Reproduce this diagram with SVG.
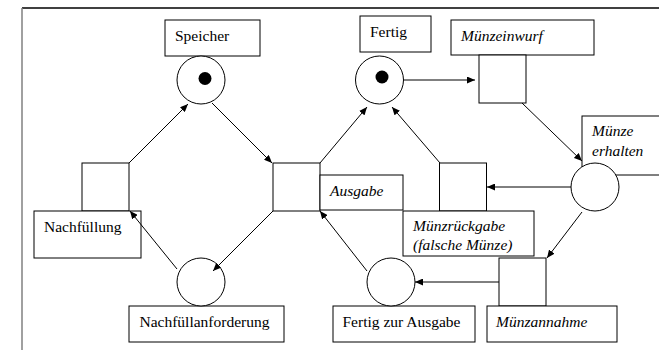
<svg xmlns="http://www.w3.org/2000/svg" width="659" height="350" viewBox="0 0 659 350">
  <style>
    .box { fill: #fff; stroke: #000; stroke-width: 1; }
    .trans { fill: #fff; stroke: #000; stroke-width: 1; }
    .place { fill: #fff; stroke: #000; stroke-width: 1; }
    .token { fill: #000; }
    .lbl { font-family: "Liberation Serif", "Times New Roman", serif; font-size: 15.5px; fill: #000; }
    .it { font-style: italic; }
    .arc { stroke: #000; stroke-width: 1; fill: none; marker-end: url(#head); }
  </style>
  <defs>
    <marker id="head" viewBox="0 0 8 7" refX="8" refY="3.5" markerWidth="8" markerHeight="7" markerUnits="userSpaceOnUse" orient="auto">
      <path d="M0,0 L8,3.5 L0,7 Z" fill="#000"/>
    </marker>
  </defs>

  <rect width="659" height="350" fill="#fff"/>

  <!-- page frame -->
  <line x1="22" y1="8" x2="659" y2="8" stroke="#000" stroke-width="1.5"/>
  <line x1="22" y1="8" x2="22" y2="350" stroke="#808080" stroke-width="1.5"/>

  <!-- places -->
  <g id="speicher">
    <rect class="box" x="165" y="20" width="95" height="36"/>
    <text class="lbl" x="175" y="41">Speicher</text>
    <circle class="place" cx="201" cy="80" r="24"/>
    <circle class="token" cx="205" cy="78.5" r="6.5"/>
  </g>

  <g id="fertig">
    <rect class="box" x="360" y="16" width="71" height="36"/>
    <text class="lbl" x="370" y="36.5">Fertig</text>
    <circle class="place" cx="379.5" cy="80" r="24"/>
    <circle class="token" cx="382" cy="77" r="6.5"/>
  </g>

  <g id="muenze-erhalten">
    <rect class="box" x="582" y="116" width="90" height="59"/>
    <text class="lbl it" x="592" y="136">Münze</text>
    <text class="lbl it" x="592" y="156">erhalten</text>
    <circle class="place" cx="595" cy="187" r="24"/>
  </g>

  <g id="nachfuellanforderung">
    <rect class="box" x="129" y="306" width="155" height="36"/>
    <text class="lbl" x="139.5" y="326.5">Nachfüllanforderung</text>
    <circle class="place" cx="201" cy="282" r="24"/>
  </g>

  <g id="fertig-zur-ausgabe">
    <rect class="box" x="333" y="306" width="142" height="36"/>
    <text class="lbl" x="342.5" y="326.5">Fertig zur Ausgabe</text>
    <circle class="place" cx="391" cy="282" r="24"/>
  </g>

  <!-- transitions -->
  <g id="nachfuellung">
    <rect class="trans" x="82" y="163" width="47" height="48"/>
    <rect class="box" x="34" y="211" width="107" height="47"/>
    <text class="lbl" x="44" y="231.5">Nachfüllung</text>
  </g>

  <g id="ausgabe">
    <rect class="trans" x="273" y="163" width="47" height="48"/>
    <rect class="box" x="320" y="175" width="83" height="35"/>
    <text class="lbl it" x="330" y="196">Ausgabe</text>
  </g>

  <g id="muenzeinwurf">
    <rect class="box" x="451" y="20" width="143" height="35"/>
    <text class="lbl it" x="461" y="41">Münzeinwurf</text>
    <rect class="trans" x="479" y="55" width="47" height="48"/>
  </g>

  <g id="muenzrueckgabe">
    <rect class="trans" x="439.5" y="163" width="47" height="48"/>
    <rect class="box" x="403" y="211" width="131" height="45"/>
    <text class="lbl it" x="413" y="231">Münzrückgabe</text>
    <text class="lbl it" x="413" y="250">(falsche Münze)</text>
  </g>

  <g id="muenzannahme">
    <rect class="trans" x="499" y="258" width="47" height="48"/>
    <rect class="box" x="487" y="306" width="130" height="36"/>
    <text class="lbl it" x="496" y="326.5">Münzannahme</text>
  </g>

  <!-- arcs, drawn last so every arrowhead stays visible -->
  <g id="connectors">
    <line class="arc" x1="129" y1="163" x2="188" y2="104"/>
    <line class="arc" x1="212" y1="103" x2="272" y2="163"/>
    <line class="arc" x1="320" y1="163" x2="367" y2="107"/>
    <line class="arc" x1="440" y1="163" x2="392" y2="107"/>
    <line class="arc" x1="404" y1="80" x2="475" y2="80"/>
    <line class="arc" x1="522" y1="103" x2="582" y2="161"/>
    <line class="arc" x1="571" y1="187" x2="487" y2="187"/>
    <line class="arc" x1="582" y1="212" x2="547" y2="258"/>
    <line class="arc" x1="499" y1="282" x2="415" y2="282"/>
    <line class="arc" x1="367" y1="271" x2="320" y2="211"/>
    <line class="arc" x1="273" y1="211" x2="213" y2="271"/>
    <line class="arc" x1="177" y1="269" x2="130" y2="211"/>
  </g>
</svg>
